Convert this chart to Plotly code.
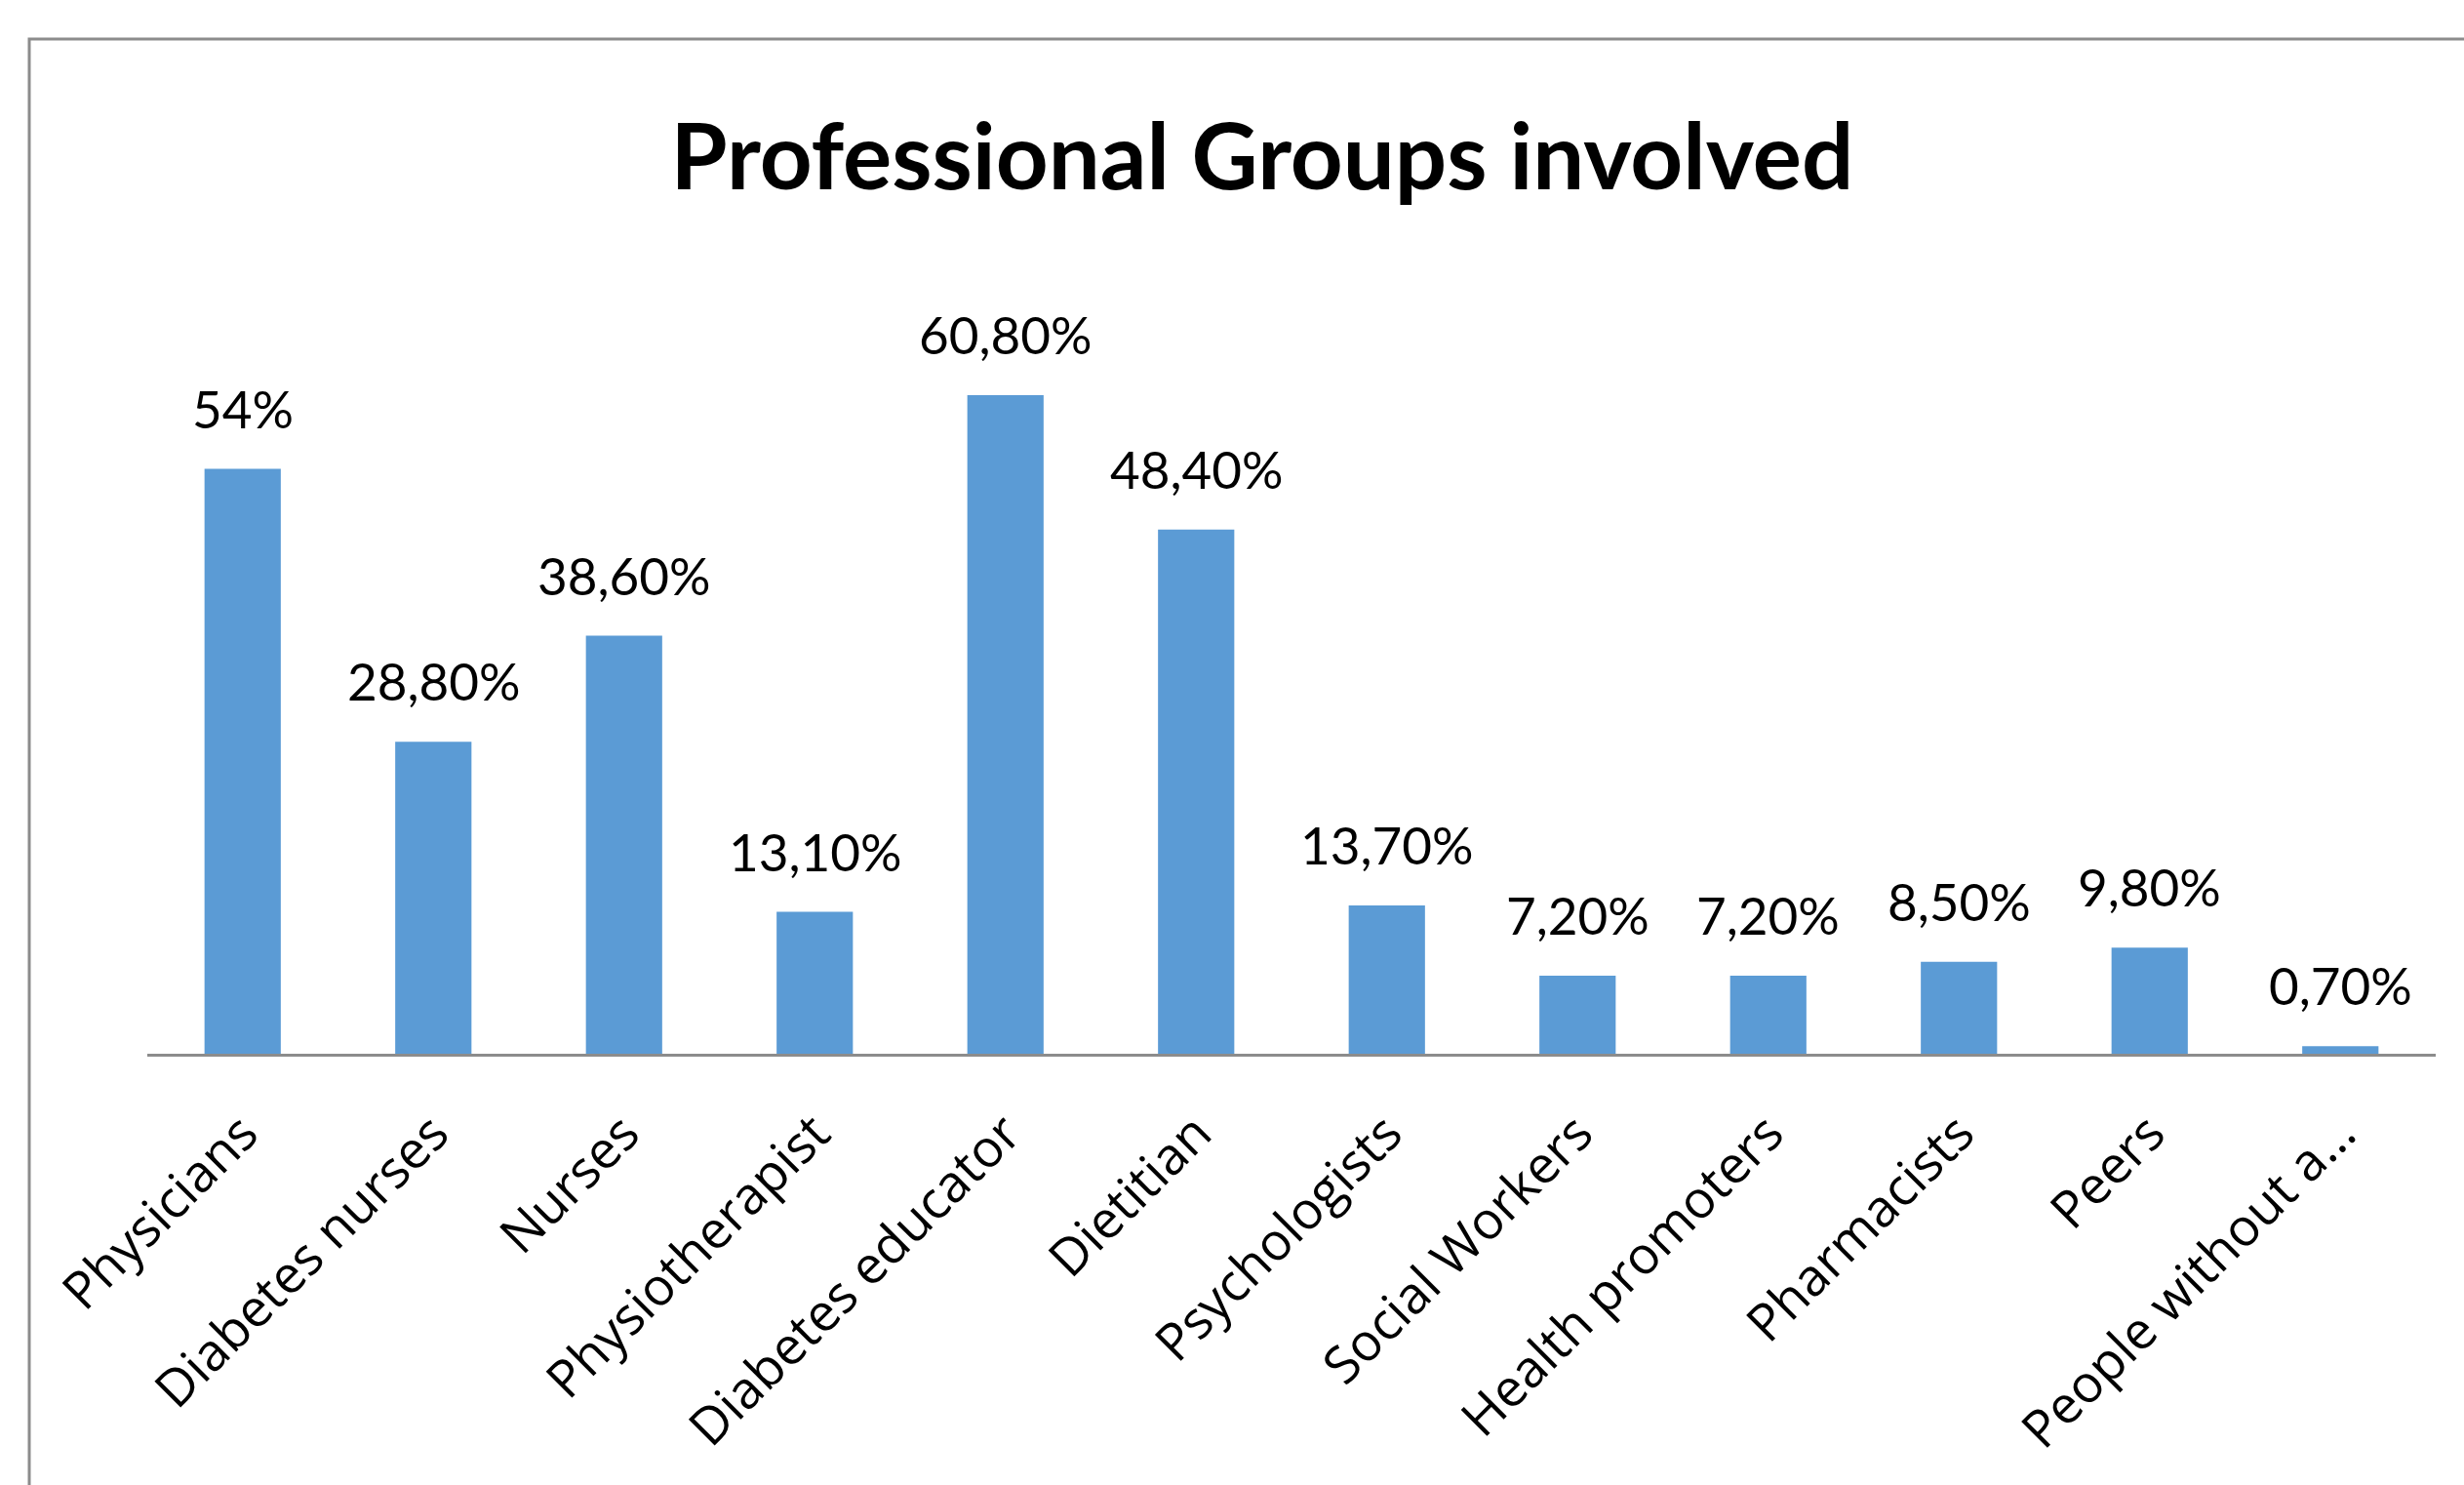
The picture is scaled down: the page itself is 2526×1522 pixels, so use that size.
import plotly.graph_objects as go

categories = ["Physicians", "Diabetes nurses", "Nurses", "Physiotherapist", "Diabetes educator",
              "Dietitian", "Psychologists", "Social Workers", "Health promoters", "Pharmacists",
              "Peers", "People without a…"]
values = [54, 28.8, 38.6, 13.1, 60.8, 48.4, 13.7, 7.2, 7.2, 8.5, 9.8, 0.7]
value_labels = ["54%", "28,80%", "38,60%", "13,10%", "60,80%", "48,40%", "13,70%",
                "7,20%", "7,20%", "8,50%", "9,80%", "0,70%"]
title_text = "Professional Groups involved"

LABEL_FONT = "Lato, sans-serif"
TICK_FONT = "Open Sans, sans-serif"
W, H = 2526, 1522
L, R, T, B = 151, 29, 303, 442

fig = go.Figure()
fig.add_trace(go.Bar(x=categories, y=values, marker=dict(color="#5B9BD5", line=dict(width=0)),
                     hoverinfo="skip"))

for c, v, lab in zip(categories, values, value_labels):
    fig.add_annotation(x=c, y=v, text=lab, showarrow=False, yanchor="bottom", yshift=29,
                       font=dict(family=LABEL_FONT, size=53, color="#000000"))

pw = W - L - R
ph = H - T - B
x0 = (30 - L) / pw
y1 = (H - B - 40) / ph
fig.add_shape(type="path", xref="paper", yref="paper",
              path=f"M {x0} -1 L {x0} {y1} L 1.2 {y1}",
              line=dict(color="#8C8C8C", width=3))

fig.update_layout(
    width=W, height=H,
    margin=dict(l=L, r=R, t=T, b=B),
    paper_bgcolor="white", plot_bgcolor="white",
    bargap=0.6,
    showlegend=False,
    title=dict(text=title_text, x=1294 / W, xanchor="center", y=1 - 161 / H, yanchor="middle",
               font=dict(family=LABEL_FONT, size=94, color="#000000", weight="bold")),
    xaxis=dict(showline=True, linecolor="#8C8C8C", linewidth=3, tickangle=-45,
               tickfont=dict(family=TICK_FONT, size=53, color="#000000"),
               ticks="", ticklabelstandoff=26, showgrid=False, zeroline=False, fixedrange=True),
    yaxis=dict(range=[0, 70], visible=False, showgrid=False, zeroline=False, fixedrange=True),
)

fig.write_html("out.html", config={"displayModeBar": False},
               post_script="document.body.style.margin='0';document.body.style.overflow='hidden';")
